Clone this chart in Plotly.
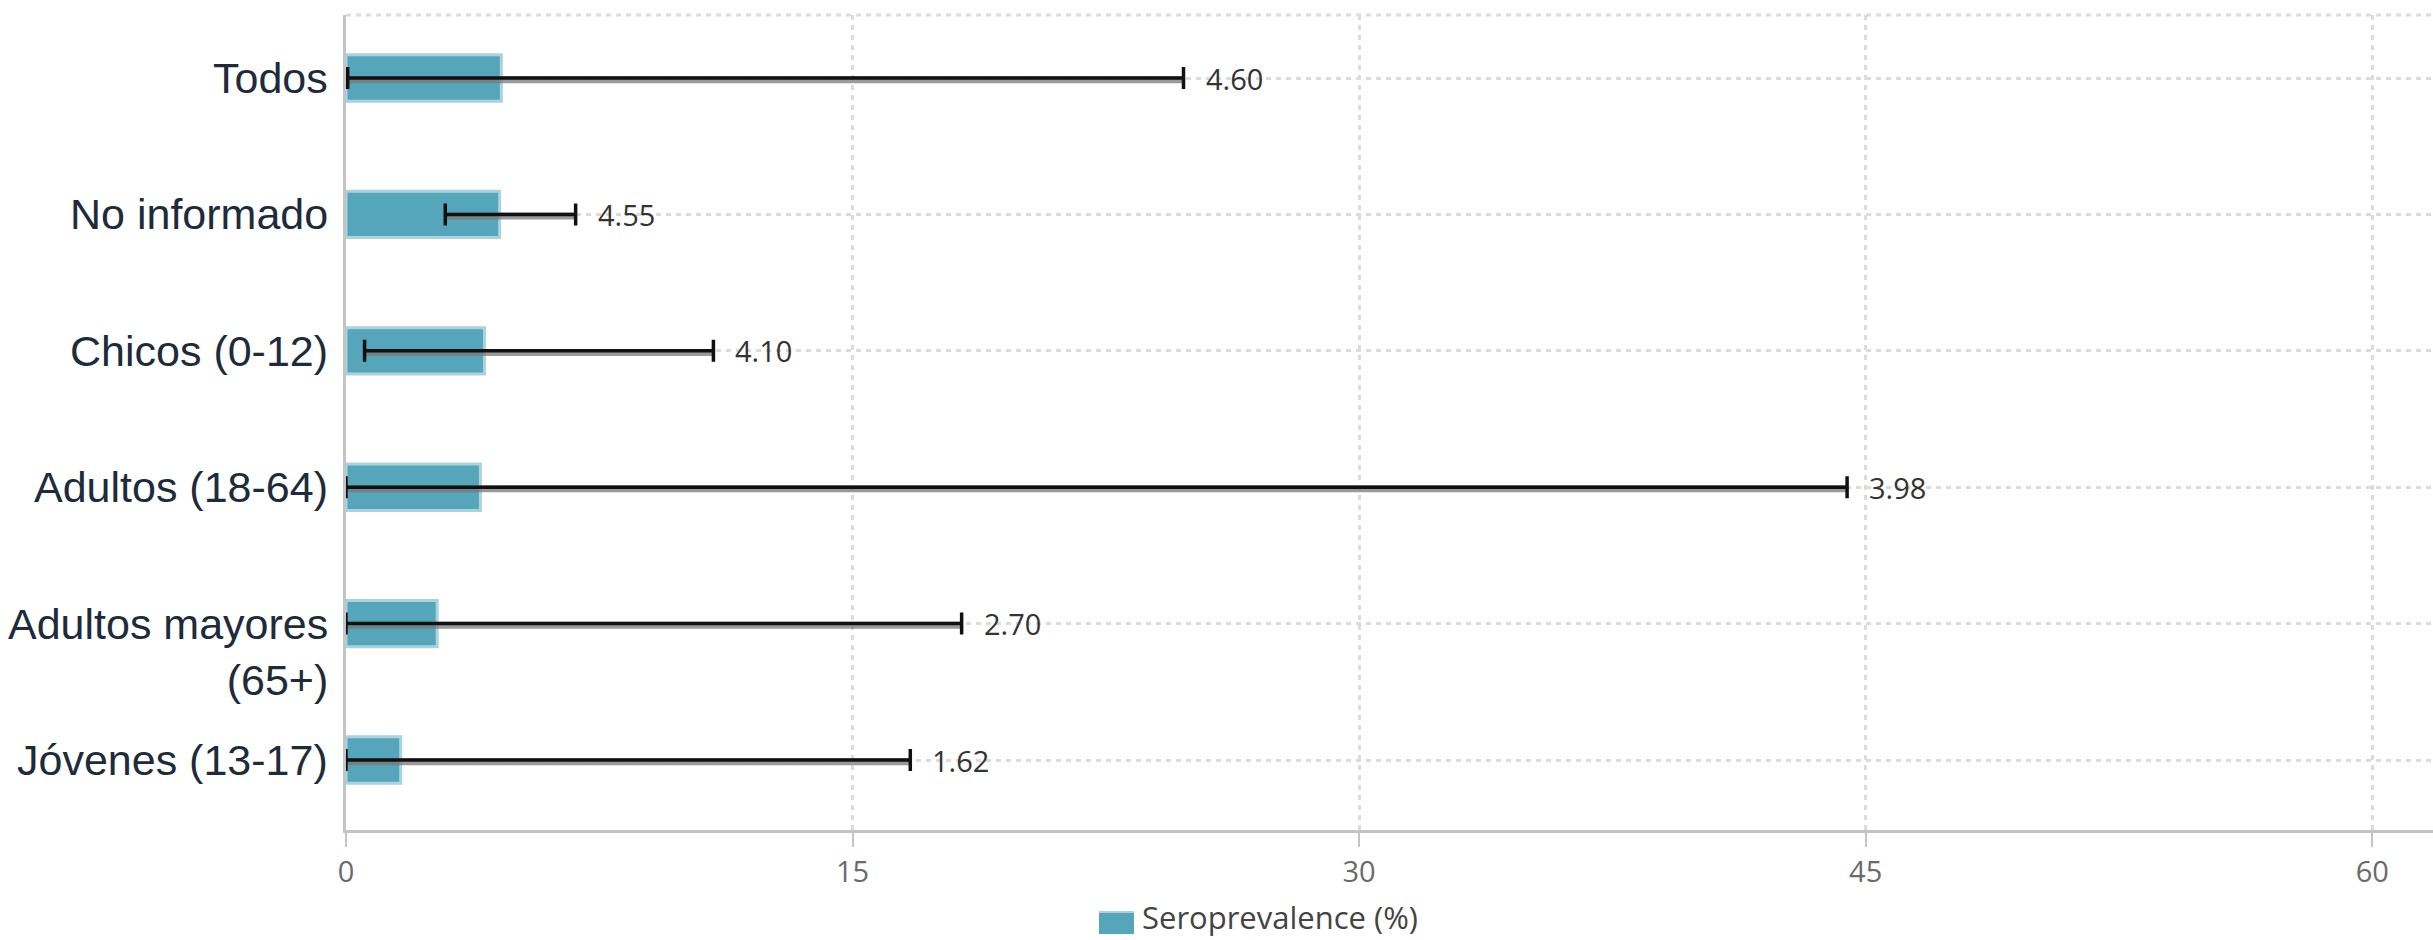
import plotly.graph_objects as go

# Age groups, listed bottom to top
groups = ["Jóvenes (13-17)", "Adultos mayores<br>(65+)", "Adultos (18-64)",
          "Chicos (0-12)", "No informado", "Todos"]
prevalence = [1.62, 2.70, 3.98, 4.10, 4.55, 4.60]
ci_low = [0.0, 0.0, 0.0, 0.55, 2.94, 0.05]
ci_high = [16.71, 18.23, 44.45, 10.88, 6.80, 24.80]
x_ticks = [0, 15, 30, 45, 60]
legend_label = "Seroprevalence (%)"

W, H = 2433, 940
ML, MR, MT, MB = 346, 0, 15, 110
plot_w = W - ML - MR
plot_h = H - MT - MB

BAR_FILL = "#55a6ba"
BAR_EDGE = "#a9d3de"
GRID = "#dcdcdc"
AXIS = "#c4c4c4"

ypos = list(range(len(groups)))
err_plus = [h - v for h, v in zip(ci_high, prevalence)]
err_minus = [v - l for v, l in zip(prevalence, ci_low)]

fig = go.Figure()

fig.add_trace(go.Bar(
    x=prevalence, y=ypos, orientation="h", width=0.34,
    marker=dict(color=BAR_FILL, line=dict(color=BAR_EDGE, width=3)),
    name=legend_label, showlegend=False, hoverinfo="x",
))

# soft grey shadow under the confidence interval whiskers
fig.add_trace(go.Scatter(
    x=prevalence, y=[p - 0.012 for p in ypos], mode="markers",
    marker=dict(size=1, color="rgba(0,0,0,0)"),
    error_x=dict(type="data", symmetric=False, array=err_plus, arrayminus=err_minus,
                 color="rgba(120,120,120,0.75)", thickness=7, width=0),
    showlegend=False, hoverinfo="skip",
))
fig.add_trace(go.Scatter(
    x=prevalence, y=ypos, mode="markers",
    marker=dict(size=1, color="rgba(0,0,0,0)"),
    error_x=dict(type="data", symmetric=False, array=err_plus, arrayminus=err_minus,
                 color="#111111", thickness=3.5, width=11),
    showlegend=False, hoverinfo="skip",
))

annotations = []
# value labels to the right of each interval
for y, v, h in zip(ypos, prevalence, ci_high):
    annotations.append(dict(
        x=h, y=y, xref="x", yref="y", text=f"{v:.2f}", showarrow=False,
        xanchor="left", yanchor="middle", xshift=20,
        font=dict(family="Open Sans", size=29, color="#333333"),
    ))

# category labels, first line centred on the row
LABEL_SIZE = 43
for y, g in zip(ypos, groups):
    extra = g.count("<br>")
    annotations.append(dict(
        x=0, y=y, xref="paper", yref="y", text=g, showarrow=False,
        xanchor="right", yanchor="middle", align="right", xshift=-16,
        yshift=-extra * 1.3 * LABEL_SIZE / 2,
        font=dict(family="Liberation Sans", size=LABEL_SIZE, color="#1e2b3b"),
    ))

# legend drawn beneath the axis
def px_x(px):
    return (px - ML) / plot_w

def px_y(py):
    return (H - MB - py) / plot_h

shapes = [
    dict(type="rect", xref="paper", yref="paper",
         x0=px_x(1099), x1=px_x(1134), y0=px_y(934), y1=px_y(911),
         fillcolor=BAR_FILL, line=dict(width=0), layer="above"),
    dict(type="line", xref="paper", yref="paper",
         x0=px_x(1099), x1=px_x(1134), y0=px_y(912), y1=px_y(912),
         line=dict(color=BAR_EDGE, width=2), layer="above"),
    # dotted top border of the plotting area
    dict(type="line", xref="paper", yref="paper", x0=0, x1=1, y0=1, y1=1,
         line=dict(color=GRID, width=3, dash="5px,5px"), layer="below"),
]
annotations.append(dict(
    x=px_x(1141), y=px_y(917), xref="paper", yref="paper", text=legend_label,
    showarrow=False, xanchor="left", yanchor="middle", borderpad=0,
    font=dict(family="Open Sans", size=31, color="#444444"),
))

fig.update_layout(
    width=W, height=H,
    margin=dict(l=ML, r=MR, t=MT, b=MB, pad=0),
    plot_bgcolor="white", paper_bgcolor="white",
    bargap=0.66,
    showlegend=False,
    annotations=annotations,
    shapes=shapes,
    xaxis=dict(
        range=[0, 61.8], tickvals=x_ticks, ticktext=[str(t) for t in x_ticks],
        showgrid=True, gridcolor=GRID, gridwidth=3, griddash="5px,5px",
        zeroline=False, showline=True, linecolor=AXIS, linewidth=3,
        ticks="outside", ticklen=14, tickwidth=2, tickcolor=AXIS,
        tickfont=dict(family="Open Sans", size=29, color="#6a6a6a"),
        fixedrange=True,
    ),
    yaxis=dict(
        range=[-0.513, 5.462], tickvals=ypos, showticklabels=False,
        showgrid=True, gridcolor=GRID, gridwidth=3, griddash="5px,5px",
        zeroline=False, showline=True, linecolor=AXIS, linewidth=3,
        ticks="", fixedrange=True,
    ),
)

fig.write_html("out.html")
